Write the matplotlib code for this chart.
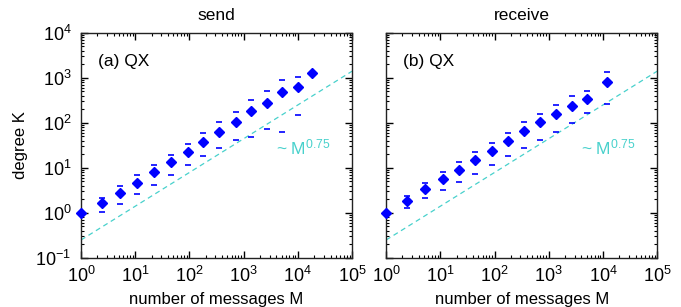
import matplotlib
matplotlib.use('Agg')
import matplotlib.pyplot as plt
from matplotlib.ticker import LogLocator
import numpy as np

plt.rcParams['font.family'] = ['Liberation Sans', 'DejaVu Sans']
plt.rcParams['mathtext.fontset'] = 'custom'
plt.rcParams['mathtext.rm'] = 'Liberation Sans'
plt.rcParams['mathtext.it'] = 'Liberation Sans:italic'
plt.rcParams['mathtext.default'] = 'regular'

# send (a)
send_m = [1, 2.4, 5.2, 10.6, 22.5, 45, 93, 176, 352, 715, 1387, 2670, 5180, 10000, 18200]
send_k = [1, 1.64, 2.74, 4.7, 8.0, 13.4, 22.7, 38.5, 64, 105, 182, 283, 489, 621, 1270]
send_up = [None, 2.19, 4.04, 6.99, 11.7, 19.8, 34.7, 59, 104, 175, 324, 514, 903, 1069, None]
send_lo = [None, 1.02, 1.56, 2.68, 4.19, 7.0, 11.7, 18.8, 27.4, 41, 49, 74, 62, 151, None]

# receive (b)
recv_m = [1, 2.4, 5.3, 11.1, 22.5, 44.5, 90, 178, 352, 703, 1387, 2735, 5100, 11800]
recv_k = [1, 1.88, 3.41, 5.7, 9.0, 15.1, 24.3, 39.8, 65, 102, 156, 243, 336, 802]
recv_up = [None, 2.43, 4.72, 8.3, 13.6, 22.7, 36.5, 61, 102, 161, 251, 392, 514, 1380]
recv_lo = [None, 1.29, 2.12, 3.24, 4.8, 7.4, 11.7, 18.5, 28.3, 41.9, 62, 98, 164, 264]

fit_m = [1, 1e5]
fit_coef = 0.25
fit_exp = 0.75

panels = [
	('send', '(a) QX', send_m, send_k, send_up, send_lo),
	('receive', '(b) QX', recv_m, recv_k, recv_up, recv_lo),
]

fig = plt.figure(figsize=(6.81, 3.07), dpi=100)
lefts = [0.119, 0.567]
blue = '#0000ff'
cyan = '#48d1cc'

for i, (title, tag, m, k, up, lo) in enumerate(panels):
	ax = fig.add_axes([lefts[i], 0.160, 0.398, 0.733])
	ax.set_xscale('log')
	ax.set_yscale('log')
	ax.set_xlim(1, 1e5)
	ax.set_ylim(0.1, 1e4)
	for a in (ax.xaxis, ax.yaxis):
		a.set_major_locator(LogLocator(base=10, numticks=20))
		a.set_minor_locator(LogLocator(base=10, subs=np.arange(2, 10), numticks=20))

	fm = np.array(fit_m)
	ax.plot(fm, fit_coef * fm ** fit_exp, color=cyan, lw=0.9, dashes=(4, 3))

	um = [x for x, v in zip(m, up) if v is not None]
	uv = [v for v in up if v is not None]
	lm = [x for x, v in zip(m, lo) if v is not None]
	lv = [v for v in lo if v is not None]
	ax.plot(um, uv, '_', color=blue, ms=5, mew=1.2, clip_on=False)
	ax.plot(lm, lv, '_', color=blue, ms=5, mew=1.2, clip_on=False)
	ax.plot(m, k, 'D', color=blue, ms=5.5, mec=blue, clip_on=False, zorder=5)

	ax.text(0.063, 0.871, tag, transform=ax.transAxes, fontsize=12.5, va='center', ha='left')
	ax.text(4000, 28, r'~ M$^{0.75}$', color=cyan, fontsize=12.5, va='center', ha='left')

	ax.set_title(title, fontsize=12.5, pad=9)
	ax.set_xlabel('number of messages M', fontsize=12, labelpad=4)
	if i == 0:
		ax.set_ylabel('degree K', fontsize=12, labelpad=5)
	ax.tick_params(which='both', direction='in', top=True, right=True, labelsize=13)
	ax.tick_params(which='major', length=5, width=1)
	ax.tick_params(which='minor', length=2.5, width=0.8)
	ax.tick_params(axis='x', pad=6)
	ax.tick_params(axis='y', pad=7)
	if i == 1:
		ax.tick_params(labelleft=False)
	for s in ax.spines.values():
		s.set_linewidth(1)
		s.set_color('#222222')

plt.savefig('out.png', dpi=100)
